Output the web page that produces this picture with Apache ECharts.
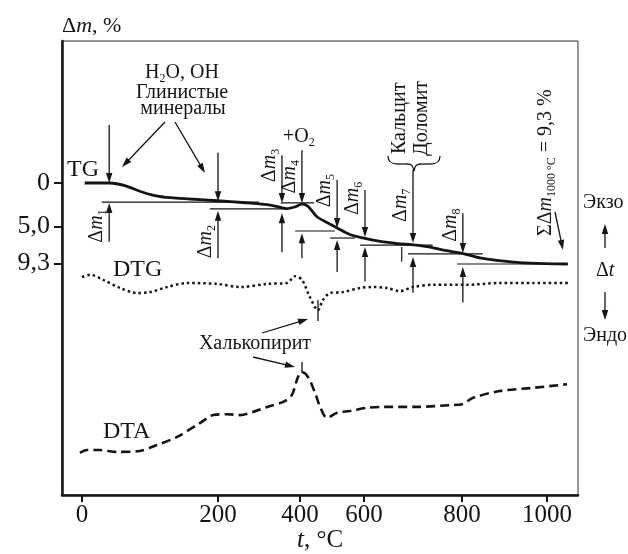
<!DOCTYPE html>
<html>
<head>
<meta charset="utf-8">
<script src="https://cdn.jsdelivr.net/npm/echarts@6/dist/echarts.min.js"></script>
<style>
html, body { margin: 0; padding: 0; background: #fff; }
#chart { width: 628px; height: 554px; }
</style>
</head>
<body>
<div id="chart"></div>
<script>
// temperature axis of the source figure is not linear: tick spacing is taken from the drawing
const tickTemps = [0, 200, 400, 600, 800, 1000];
const tickPos = [0, 136, 218, 282, 380, 465];

const massTicks = [0, 5, 9.3];
const massLabels = ['0', '5,0', '9,3'];

// TG, mass loss in %
const tgTemp = [4, 41, 63, 85, 107, 130, 159, 200, 260, 320, 350, 368, 388, 406, 425, 453, 494, 516, 556, 602, 633, 668, 700, 735, 765, 802, 842, 882, 936, 995, 1049];
const tgLoss = [0, 0, 0.3, 0.95, 1.45, 1.7, 1.85, 2.05, 2.25, 2.5, 2.8, 2.95, 2.75, 2.45, 2.7, 3.9, 4.75, 5.2, 5.95, 6.4, 6.75, 7.0, 7.15, 7.4, 7.8, 8.15, 8.65, 8.95, 9.2, 9.32, 9.36];

// DTG and DTA, arbitrary units (up = exo)
const dtgTemp = [0, 12, 31, 56, 81, 100, 125, 154, 199, 254, 320, 368, 388, 406, 431, 456, 472, 494, 534, 588, 618, 647, 673, 700, 741, 812, 889, 967, 1054];
const dtgVal = [48.0, 48.5, 47.4, 45.6, 44.5, 44.7, 45.8, 46.7, 46.5, 45.8, 46.5, 46.7, 48.2, 47.4, 43.6, 40.7, 43.0, 44.5, 44.7, 45.6, 45.8, 45.6, 44.9, 45.8, 46.3, 46.3, 46.7, 46.7, 46.7];
const dtaTemp = [-3, 7, 26, 51, 85, 110, 140, 174, 193, 222, 254, 285, 320, 359, 380, 395, 406, 425, 447, 463, 484, 516, 556, 606, 639, 708, 776, 800, 826, 889, 967, 1047];
const dtaVal = [9.3, 9.9, 9.9, 9.5, 9.7, 11.0, 12.8, 15.9, 17.6, 17.8, 17.6, 18.3, 19.4, 20.5, 22.0, 26.0, 27.1, 26.0, 22.5, 19.4, 17.0, 18.1, 18.5, 19.2, 19.4, 19.4, 19.8, 20.0, 21.4, 22.9, 23.6, 24.4];

// mass-loss steps Δm1..Δm8 (levels in %)
const dmTemp = [40, 200, 356, 406, 516, 602, 700, 802];
const dmTopTip = [0, 2.1, 2.3, 2.3, 5.2, 6.24, 6.94, 8.1];
const dmBotTip = [2.3, 3.2, 3.5, 5.8, 6.6, 7.4, 8.55, 9.7];
// reference lines of the steps
const refLevel = [2.2, 3.0, 2.3, 5.55, 6.36, 7.17, 8.2, 9.36];
const refFrom = [29, 188, 353, 388, 494, 588, 690, 790];
const refTo = [300, 371, 444, 509, 572, 740, 849, 1049];

// arrow tails / label starts for the steps (layout)
const dmTopTail = [-6.7, -3.5, -3.2, -3.8, -0.35, 0.8, -1.5, 3.5];
const dmBotTail = [6.8, 8.7, 8.0, 8.7, 10.3, 11.4, 12.7, 13.8];
const dmLabelStart = [6.9, 8.7, -0.1, 1.2, 2.8, 3.7, 4.5, 6.8];

const FONT = 'Liberation Serif';
const INK = '#151515';

function warp(t) {
    let i = 0;
    while (i < tickTemps.length - 2 && t > tickTemps[i + 1]) i++;
    const k = (tickPos[i + 1] - tickPos[i]) / (tickTemps[i + 1] - tickTemps[i]);
    return tickPos[i] + (t - tickTemps[i]) * k;
}

function richSet(size) {
    const sub = Math.round(size * 0.62);
    return {
        n: {fontFamily: FONT, fontSize: size, lineHeight: size, verticalAlign: 'top'},
        i: {fontFamily: FONT, fontSize: size, lineHeight: size, fontStyle: 'italic', verticalAlign: 'top'},
        s: {fontFamily: FONT, fontSize: sub, lineHeight: sub, verticalAlign: 'top', padding: [Math.round(size * 0.5), 0, 0, 0]}
    };
}

function txt(x, y, text, size, align, valign, rot) {
    return {
        type: 'text', x: x, y: y, rotation: rot || 0, silent: true, z: 10,
        style: {
            text: text, rich: richSet(size), font: size + 'px ' + FONT, fill: INK,
            align: align, verticalAlign: valign, textAlign: align, textVerticalAlign: valign
        }
    };
}

function arrowEls(x1, y1, x2, y2) {
    const head = 10, half = 3.2;
    const dx = x2 - x1, dy = y2 - y1, L = Math.hypot(dx, dy);
    const ux = dx / L, uy = dy / L;
    const bx = x2 - ux * head, by = y2 - uy * head;
    return [
        {type: 'line', silent: true, z: 10, shape: {x1: x1, y1: y1, x2: bx + ux * 2, y2: by + uy * 2}, style: {stroke: INK, lineWidth: 1.3}},
        {type: 'polygon', silent: true, z: 10, shape: {points: [[x2, y2], [bx - uy * half, by + ux * half], [bx + uy * half, by - ux * half]]}, style: {fill: INK}}
    ];
}

function seg(x1, y1, x2, y2, w) {
    return {type: 'line', silent: true, z: 10, shape: {x1: x1, y1: y1, x2: x2, y2: y2}, style: {stroke: INK, lineWidth: w || 1.3}};
}

function bez(x1, y1, cx1, cy1, cx2, cy2, x2, y2) {
    return {type: 'bezierCurve', silent: true, z: 10,
        shape: {x1: x1, y1: y1, cpx1: cx1, cpy1: cy1, cpx2: cx2, cpy2: cy2, x2: x2, y2: y2},
        style: {stroke: INK, lineWidth: 1.3, fill: null}};
}

const ROT = Math.PI / 2;

let graphics = [
    txt(62, 15, '{n|Δ}{i|m}{n|, %}', 22, 'left', 'top'),
    txt(182, 63, '{n|H}{s|2}{n|O, OH}', 20, 'center', 'top'),
    txt(182, 83, '{n|Глинистые}', 20, 'center', 'top'),
    txt(183, 99, '{n|минералы}', 20, 'center', 'top'),
    txt(67, 158, '{n|TG}', 24, 'left', 'top'),
    txt(113, 258, '{n|DTG}', 24, 'left', 'top'),
    txt(103, 420, '{n|DTA}', 24, 'left', 'top'),
    txt(283, 127, '{n|+O}{s|2}', 20, 'left', 'top'),
    txt(410, 154, '{n|Кальцит}', 20, 'left', 'bottom', ROT),
    txt(432, 156, '{n|Доломит}', 20, 'left', 'bottom', ROT),
    txt(556, 236, '{n|ΣΔ}{i|m}{s|1000 °C}{n| = 9,3 %}', 20, 'left', 'bottom', ROT),
    txt(255, 334, '{n|Халькопирит}', 20, 'center', 'top'),
    txt(583, 193, '{n|Экзо}', 20, 'left', 'top'),
    txt(596, 261, '{n|Δ}{i|t}', 20, 'left', 'top'),
    txt(583, 326, '{n|Эндо}', 20, 'left', 'top'),
    txt(320, 528, '{i|t}{n|, °C}', 25, 'center', 'top'),
    // brace under Кальцит / Доломит
    bez(388, 156, 388, 162, 391, 164, 398, 164),
    seg(398, 164, 407, 164),
    bez(407, 164, 412, 164, 413, 166, 414, 171),
    bez(440, 156, 440, 162, 437, 164, 430, 164),
    seg(430, 164, 421, 164),
    bez(421, 164, 416, 164, 415, 166, 414, 171),
    // peak marks
    seg(318, 300, 318, 321),
    seg(302, 362, 302, 373)
];
graphics = graphics
    .concat(arrowEls(165, 122, 122, 167))
    .concat(arrowEls(175, 122, 205, 173))
    .concat(arrowEls(555, 212, 563, 250))
    .concat(arrowEls(262, 333, 308, 319))
    .concat(arrowEls(253, 357, 295, 367))
    .concat(arrowEls(605, 248, 605, 224))
    .concat(arrowEls(605, 292, 605, 320));

const chart = echarts.init(document.getElementById('chart'));

const option = {
    animation: false,
    backgroundColor: '#fff',
    grid: {
        left: 62, top: 41, width: 516, height: 454,
        show: true, borderColor: '#333', borderWidth: 1
    },
    xAxis: {
        type: 'value', min: -20, max: 496,
        splitLine: {show: false},
        axisLine: {onZero: false, lineStyle: {color: INK, width: 2.5}},
        axisTick: {customValues: tickPos, length: 7, lineStyle: {color: INK, width: 2}},
        axisLabel: {
            customValues: tickPos, margin: 8,
            fontFamily: FONT, fontSize: 25, color: INK,
            formatter: function (v) { return String(tickTemps[tickPos.indexOf(v)]); }
        }
    },
    yAxis: [
        {
            type: 'value', inverse: true, min: -16.42, max: 36.07,
            splitLine: {show: false},
            axisLine: {show: true, onZero: false, lineStyle: {color: INK, width: 2.5}},
            axisTick: {customValues: massTicks, length: 8, lineStyle: {color: INK, width: 2}},
            axisLabel: {
                customValues: massTicks, margin: 12,
                fontFamily: FONT, fontSize: 26, color: INK,
                formatter: function (v) { return massLabels[massTicks.indexOf(v)]; }
            }
        },
        {type: 'value', min: 0, max: 100, show: false}
    ],
    graphic: {elements: graphics},
    series: [
        {
            name: 'TG', type: 'line', smooth: 0.3, symbol: 'none',
            lineStyle: {color: INK, width: 2.8},
            data: tgTemp.map((t, i) => [warp(t), tgLoss[i]])
        },
        {
            name: 'DTG', type: 'line', yAxisIndex: 1, smooth: 0.3, symbol: 'none',
            lineStyle: {color: INK, width: 2.5, type: [2.5, 3]},
            data: dtgTemp.map((t, i) => [warp(t), dtgVal[i]])
        },
        {
            name: 'DTA', type: 'line', yAxisIndex: 1, smooth: 0.3, symbol: 'none',
            lineStyle: {color: INK, width: 2.6, type: [9, 5]},
            data: dtaTemp.map((t, i) => [warp(t), dtaVal[i]])
        },
        {
            // reference lines of the mass-loss steps
            type: 'custom', silent: true, clip: false, z: 4,
            data: refLevel.map((v, i) => [warp(refFrom[i]), v, i]),
            renderItem: function (params, api) {
                const i = api.value(2);
                const a = api.coord([warp(refFrom[i]), refLevel[i]]);
                const b = api.coord([warp(refTo[i]), refLevel[i]]);
                const children = [seg(a[0], a[1], b[0], b[1], 1.2)];
                if (i === 5) {
                    const c = api.coord([warp(677), 7.4]);
                    const d = api.coord([warp(677), 9.1]);
                    children.push(seg(c[0], c[1], d[0], d[1], 1.2));
                }
                return {type: 'group', children: children};
            }
        },
        {
            // Δm arrows and labels
            type: 'custom', silent: true, clip: false, z: 5,
            data: dmTemp.map((t, i) => [warp(t), dmTopTip[i], i]),
            renderItem: function (params, api) {
                const i = api.value(2);
                const x = api.coord([warp(dmTemp[i]), 0])[0];
                const py = v => api.coord([0, v])[1];
                let children = []
                    .concat(arrowEls(x, py(dmTopTail[i]), x, py(dmTopTip[i])))
                    .concat(arrowEls(x, py(dmBotTail[i]), x, py(dmBotTip[i])));
                children.push(txt(x - 2, py(dmLabelStart[i]), '{n|Δ}{i|m}{s|' + (i + 1) + '}', 20, 'left', 'bottom', ROT));
                return {type: 'group', children: children};
            }
        }
    ]
};

option && chart.setOption(option);
</script>
</body>
</html>
